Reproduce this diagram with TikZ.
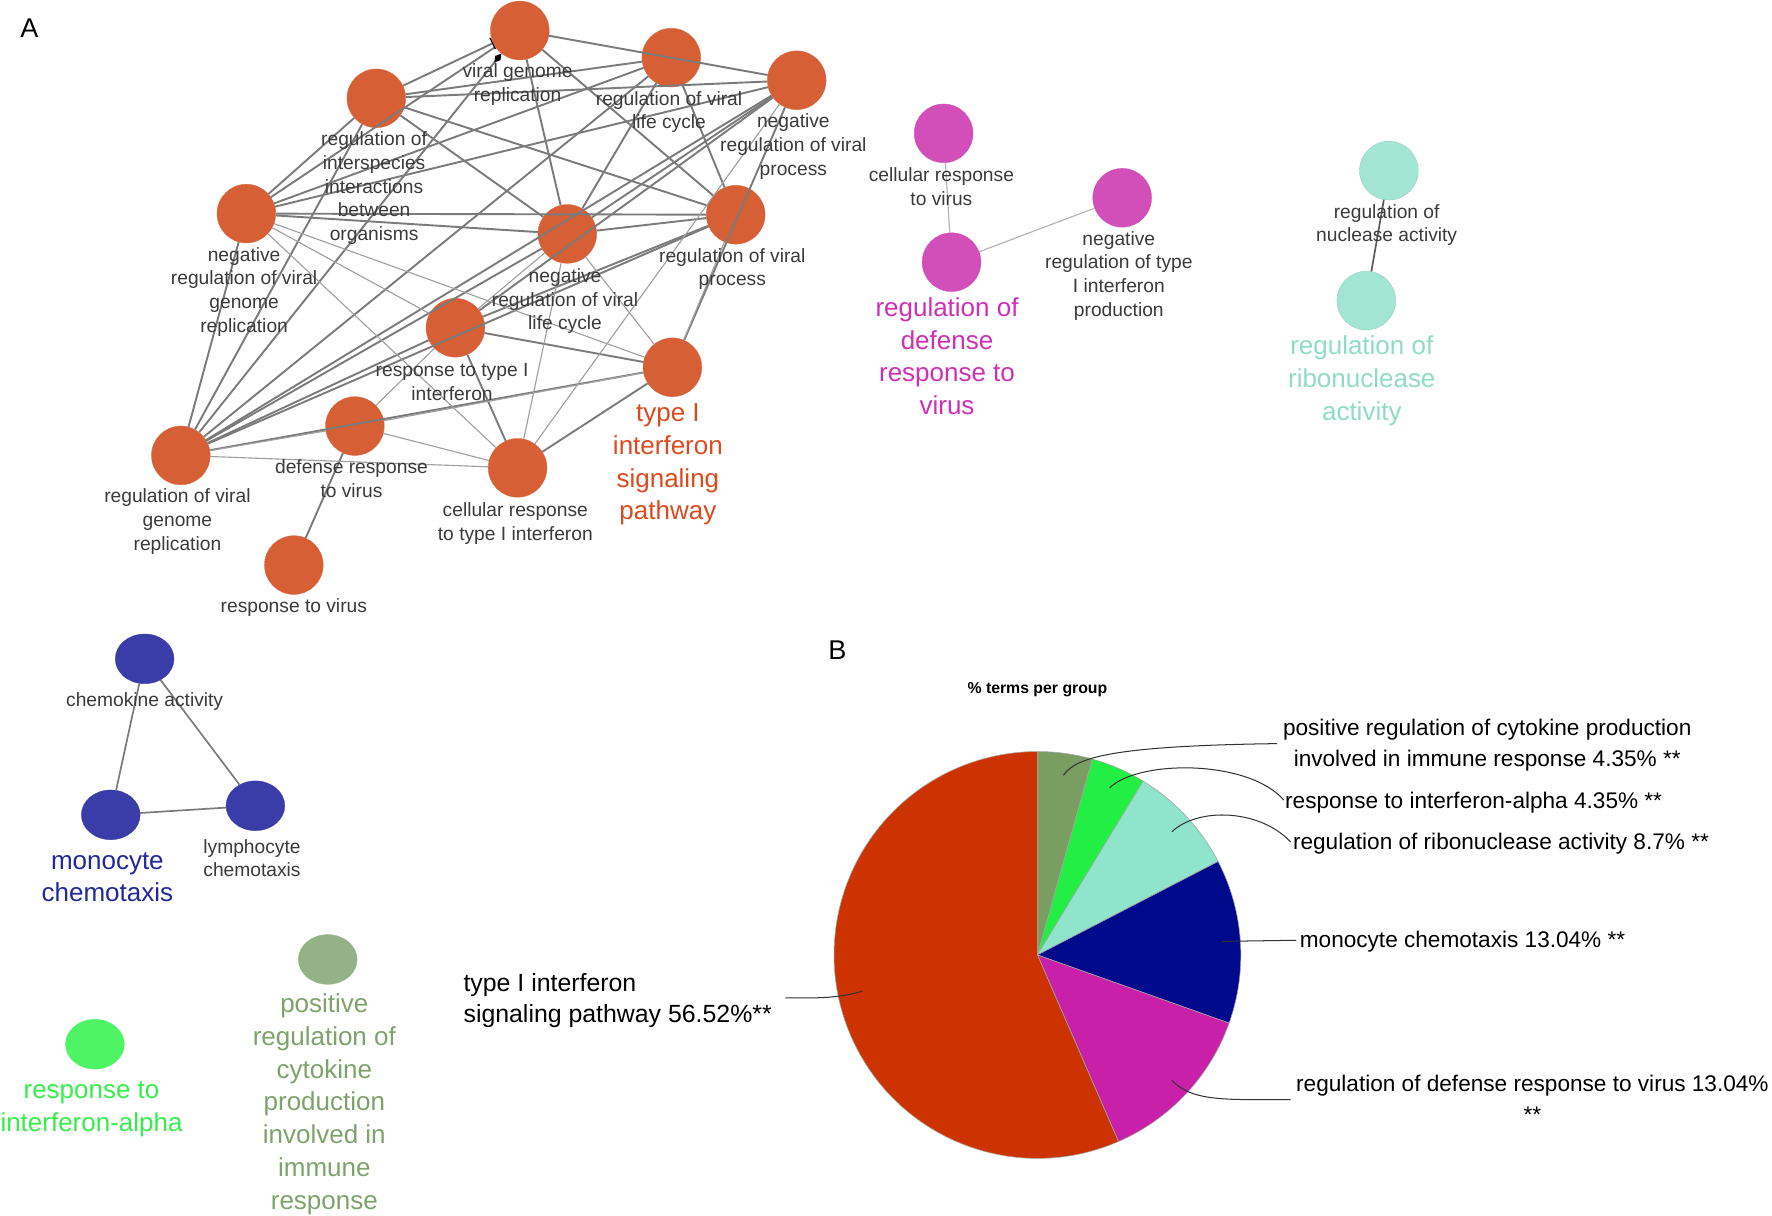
\documentclass[tikz,border=0pt]{standalone}
\usepackage{fontspec}
\setmainfont{Liberation Sans}
\usetikzlibrary{arrows.meta,shapes.geometric}
\definecolor{orN}{HTML}{D65F35}
\definecolor{orT}{HTML}{DC4A1E}
\definecolor{mgN}{HTML}{D24FBA}
\definecolor{mgT}{HTML}{CF2FB4}
\definecolor{mnN}{HTML}{A3E5D3}
\definecolor{mnT}{HTML}{8FDCC6}
\definecolor{blN}{HTML}{3A3CA8}
\definecolor{blT}{HTML}{22289A}
\definecolor{sgN}{HTML}{93B386}
\definecolor{sgT}{HTML}{7EA26C}
\definecolor{grN}{HTML}{4DF565}
\definecolor{grT}{HTML}{35EE4A}
\definecolor{labG}{HTML}{3A3A3A}
\definecolor{edS}{HTML}{7B7B7B}
\definecolor{edW}{HTML}{A0A0A0}
\definecolor{pSage}{HTML}{7A9E62}
\definecolor{pGreen}{HTML}{22EE44}
\definecolor{pMint}{HTML}{90E4CC}
\definecolor{pNavy}{HTML}{000A8A}
\definecolor{pMag}{HTML}{C820A8}
\definecolor{pRed}{HTML}{CC3300}
\begin{document}
\begin{tikzpicture}[x=1pt,y=-1pt,
  cnode/.style={circle, minimum size=52pt, inner sep=0pt, line width=0.3pt},
  enode/.style={ellipse, minimum width=52pt, minimum height=44pt, inner sep=0pt, line width=0.3pt},
  onode/.style={cnode, fill=orN, draw=orN!90!white},
  lbl/.style={font=\fontsize{17}{21}\selectfont, text=labG, align=center, inner sep=0pt, anchor=base},
  biglbl/.style={font=\fontsize{23}{29}\selectfont, align=center, inner sep=0pt, anchor=base},
  blab/.style={font=\fontsize{20}{27}\selectfont, inner sep=0pt},
  strong/.style={draw=edS, line width=1.7pt},
  weak/.style={draw=edW, line width=1.0pt},
  leader/.style={draw=black!80, line width=0.9pt},
  slice/.style={draw=gray!70, line width=0.5pt}
]
\useasboundingbox (0,0) rectangle (1568,1076);

% panel letters
\node[font=\fontsize{24}{28}\selectfont, inner sep=0pt] (letA) at (26,25) {A};
\node[font=\fontsize{24}{28}\selectfont, inner sep=0pt] (letB) at (741,575) {B};

% ---- orange cluster nodes
\node[onode] (vgr) at (460,27) {};
\node[onode] (rvlc) at (594,51) {};
\node[onode] (nrvp) at (705,71) {};
\node[onode] (rii) at (333,87) {};
\node[onode] (nrvgr) at (218,189) {};
\node[onode] (nrvlc) at (502,207) {};
\node[onode] (rvp) at (651,190) {};
\node[onode] (rt1) at (403,290) {};
\node[onode] (t1) at (595,325) {};
\node[onode] (drv) at (314,377) {};
\node[onode] (rvgr) at (160,403) {};
\node[onode] (crt1) at (458,414) {};
\node[onode] (rv) at (260,500) {};

% ---- other clusters
\node[cnode, fill=mgN, draw=mgN] (crv) at (835,118) {};
\node[cnode, fill=mgN, draw=mgN] (nrt1) at (993,175) {};
\node[cnode, fill=mgN, draw=mgN] (rdrv) at (842,232) {};
\node[cnode, fill=mnN, draw=mnN!90!black] (rna) at (1229,151) {};
\node[cnode, fill=mnN, draw=mnN!90!black] (rra) at (1209,266) {};
\node[enode, fill=blN, draw=blN] (chem) at (128,583) {};
\node[enode, fill=blN, draw=blN] (mono) at (98,721) {};
\node[enode, fill=blN, draw=blN] (lymph) at (226,713) {};
\node[enode, fill=sgN, draw=sgN] (sage) at (290,849) {};
\node[enode, fill=grN, draw=grN] (ifna) at (84,924) {};

% ---- orange edges (drawn over nodes, as in the figure)
\draw[strong] (vgr) -- (nrvp);
\draw[strong] (vgr) -- (nrvlc);
\draw[strong] (vgr) -- (rvp);
\draw[strong] (vgr) -- (nrvgr);
\draw[strong] (rii) -- (rvlc);
\draw[strong] (rii) -- (nrvp);
\draw[strong] (rii) -- (rvp);
\draw[strong] (rii) -- (nrvlc);
\draw[strong] (rii) -- (nrvgr);
\draw[strong] (rii) -- (rvgr);
\draw[strong] (nrvgr) -- (rvlc);
\draw[strong] (nrvgr) -- (nrvp);
\draw[strong] (nrvgr) -- (rvp);
\draw[strong] (nrvgr) -- (nrvlc);
\draw[strong] (nrvgr) -- (rvgr);
\draw[strong] (rvgr) -- (rvlc);
\draw[strong] (rvgr) -- (nrvp);
\draw[strong] (rvgr) -- (nrvlc);
\draw[strong] (rvgr) -- (rt1);
\draw[strong] (rvgr) -- (t1);
\draw[strong] (rvgr) -- (rvp);
\draw[strong] (rvlc) -- (nrvlc);
\draw[strong] (rvlc) -- (rvp);
\draw[strong] (nrvlc) -- (rvp);
\draw[strong] (nrvp) -- (nrvlc);
\draw[strong] (nrvp) -- (rt1);
\draw[strong] (nrvp) -- (t1);
\draw[strong] (rt1) -- (t1);
\draw[strong] (rt1) -- (crt1);
\draw[strong] (crt1) -- (t1);
\draw[strong] (rt1) -- (rvp);
\draw[strong] (rv) -- (drv);
\draw[strong, -{Diamond[length=10pt,width=6pt,color=black]}] (rvgr) -- (vgr);
\draw[strong, -{Bar[width=11pt,color=black,line width=1pt]}] (rii) -- (vgr);
\draw[weak] (nrvgr) -- (rt1);
\draw[weak] (nrvgr) -- (t1);
\draw[weak] (nrvgr) -- (crt1);
\draw[weak] (rvgr) -- (drv);
\draw[weak] (rvgr) -- (crt1);
\draw[weak] (drv) -- (rt1);
\draw[weak] (drv) -- (crt1);
\draw[weak] (drv) -- (t1);
\draw[weak] (crt1) -- (nrvlc);
\draw[weak] (crt1) -- (nrvp);
\draw[weak] (nrvlc) -- (t1);
\draw[weak] (rvp) -- (t1);
\draw[weak] (rt1) -- (nrvlc);

% ---- other edges
\draw[draw=gray!60, line width=1pt] (crv) -- (rdrv);
\draw[draw=gray!60, line width=1pt] (rdrv) -- (nrt1);
\draw[draw=black!65, line width=1.5pt] (rna) -- (rra);
\draw[draw=edS, line width=1.5pt] (chem) -- (mono);
\draw[draw=edS, line width=1.5pt] (chem) -- (lymph);
\draw[draw=edS, line width=1.5pt] (mono) -- (lymph);

% ---- small labels (anchor = baseline of the last line)
\node[lbl] (l-vgr) at (458,90) {viral genome\\replication};
\node[lbl] (l-rvlc) at (592,114) {regulation of viral\\life cycle};
\node[lbl] (l-nrvp) at (702,155) {negative\\regulation of viral\\process};
\node[lbl] (l-rii) at (331,213) {regulation of\\interspecies\\interactions\\between\\organisms};
\node[lbl] (l-nrvgr) at (216,294) {negative\\regulation of viral\\genome\\replication};
\node[lbl] (l-nrvlc) at (500,292) {negative\\regulation of viral\\life cycle};
\node[lbl] (l-rvp) at (648,253) {regulation of viral\\process};
\node[lbl] (l-rt1) at (400,354) {response to type I\\interferon};
\node[lbl] (l-drv) at (311,440) {defense response\\to virus};
\node[lbl] (l-rvgr) at (157,487) {regulation of viral\\genome\\replication};
\node[lbl] (l-crt1) at (456,478) {cellular response\\to type I interferon};
\node[lbl] (l-rv) at (260,542) {response to virus};
\node[lbl] (l-crv) at (833,182) {cellular response\\to virus};
\node[lbl] (l-nrt1) at (990,280) {negative\\regulation of type\\I interferon\\production};
\node[lbl] (l-rna) at (1227,214) {regulation of\\nuclease activity};
\node[lbl] (l-chem) at (128,625) {chemokine activity};
\node[lbl] (l-lymph) at (223,776) {lymphocyte\\chemotaxis};

% ---- big coloured labels
\node[biglbl, text=orT] (l-t1) at (591,460) {type I\\interferon\\signaling\\pathway};
\node[biglbl, text=mgT] (l-rdrv) at (838,367) {regulation of\\defense\\response to\\virus};
\node[biglbl, text=mnT] (l-rra) at (1205,372) {regulation of\\ribonuclease\\activity};
\node[biglbl, text=blT] (l-mono) at (95,798) {monocyte\\chemotaxis};
\node[biglbl, text=sgT] (l-sage) at (287,1070) {positive\\regulation of\\cytokine\\production\\involved in\\immune\\response};
\node[biglbl, text=grT] (l-ifna) at (81,1001) {response to\\interferon-alpha};

% ---- pie chart
\node[font=\bfseries\fontsize{14}{16}\selectfont, inner sep=0pt] (ptitle) at (918,610) {\% terms per group};
\begin{scope}[shift={(918,845)}, yscale=-1]
  \filldraw[slice, fill=pSage] (0,0) -- (90:180) arc[start angle=90, end angle=74.34, radius=180] -- cycle;
  \filldraw[slice, fill=pGreen] (0,0) -- (74.34:180) arc[start angle=74.34, end angle=58.68, radius=180] -- cycle;
  \filldraw[slice, fill=pMint] (0,0) -- (58.68:180) arc[start angle=58.68, end angle=27.36, radius=180] -- cycle;
  \filldraw[slice, fill=pNavy] (0,0) -- (27.36:180) arc[start angle=27.36, end angle=-19.58, radius=180] -- cycle;
  \filldraw[slice, fill=pMag] (0,0) -- (-19.58:180) arc[start angle=-19.58, end angle=-66.53, radius=180] -- cycle;
  \filldraw[slice, fill=pRed] (0,0) -- (-66.53:180) arc[start angle=-66.53, end angle=-270, radius=180] -- cycle;
\end{scope}

% pie labels
\node[blab, align=center, anchor=base] (b1) at (1316,678) {positive regulation of cytokine production\\involved in immune response 4.35\% **};
\node[blab, anchor=base west] (b2) at (1137,715) {response to interferon-alpha 4.35\% **};
\node[blab, anchor=base west] (b3) at (1144,752) {regulation of ribonuclease activity 8.7\% **};
\node[blab, anchor=base west] (b4) at (1150,838) {monocyte chemotaxis 13.04\% **};
\node[blab, align=center, anchor=base] (b5) at (1356,993) {regulation of defense response to virus 13.04\%\\**};
\node[font=\fontsize{22}{28}\selectfont, inner sep=0pt, align=left, anchor=base west] (b6) at (410,905) {type I interferon\\signaling pathway 56.52\%**};

% leader lines
\coordinate (s1) at (941,686); \coordinate (e1) at (1130,658);
\coordinate (s2) at (982,697); \coordinate (e2) at (1136,708);
\coordinate (s3) at (1037,736); \coordinate (e3) at (1142,745);
\coordinate (s4) at (1081,833); \coordinate (e4) at (1147,832);
\coordinate (s5) at (1037,956); \coordinate (e5) at (1142,973);
\coordinate (s6) at (763,877); \coordinate (e6) at (695,883);
\draw[leader] (s1) .. controls (952,670) and (985,660) .. (e1);
\draw[leader] (s2) .. controls (1008,672) and (1105,672) .. (e2);
\draw[leader] (s3) .. controls (1060,714) and (1115,716) .. (e3);
\draw[leader] (s4) -- (e4);
\draw[leader] (s5) .. controls (1055,975) and (1085,973) .. (e5);
\draw[leader] (s6) .. controls (740,884) and (720,883) .. (e6);
\end{tikzpicture}
\end{document}
